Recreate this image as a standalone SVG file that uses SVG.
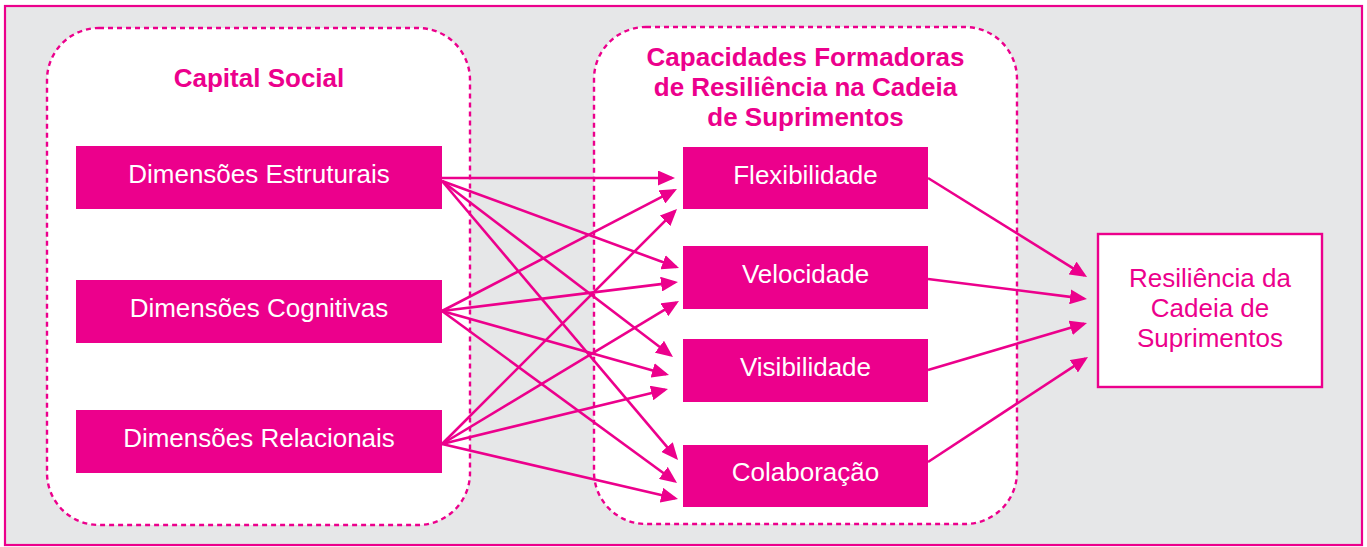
<svg xmlns="http://www.w3.org/2000/svg" width="1367" height="547" viewBox="0 0 1367 547">
<style>
text{font-family:"Liberation Sans",Arial,Helvetica,sans-serif;font-size:26px;text-anchor:middle}
.frame{fill:#e6e7e8;stroke:#ec008c;stroke-width:2.2}
.group{fill:#ffffff;stroke:#ec008c;stroke-width:2.4;stroke-dasharray:5 4}
.box{fill:#ec008c}
.wt{fill:#ffffff}
.title{fill:#ec008c;font-weight:bold}
.out{fill:#ffffff;stroke:#ec008c;stroke-width:2.4}
.pt{fill:#ec008c}
.conn line{stroke:#ec008c;stroke-width:2.6;marker-end:url(#arr)}
</style>
<defs>
<marker id="arr" markerUnits="userSpaceOnUse" markerWidth="17" markerHeight="15" refX="14" refY="7.5" orient="auto">
<path d="M0,0 L17,7.5 L0,15 z" fill="#ec008c"/>
</marker>
</defs>
<rect class="frame" x="5" y="6" width="1357" height="539"/>
<g id="capital-social">
<rect class="group" x="47" y="28" width="423" height="497" rx="52" ry="52"/>
<text class="title" x="259" y="87">Capital Social</text>
</g>
<g id="capacidades">
<rect class="group" x="594" y="27" width="423" height="497" rx="52" ry="52"/>
<text class="title" x="805.5" y="66">Capacidades Formadoras</text>
<text class="title" x="805.5" y="96">de Resiliência na Cadeia</text>
<text class="title" x="805.5" y="126">de Suprimentos</text>
</g>
<g id="connectors" class="conn">
<line x1="442" y1="178" x2="672" y2="178"/>
<line x1="442" y1="181" x2="676.2" y2="267"/>
<line x1="442" y1="181" x2="670.6" y2="355.2"/>
<line x1="442" y1="181" x2="676.1" y2="457.7"/>
<line x1="442" y1="311" x2="674.3" y2="190.4"/>
<line x1="442" y1="311" x2="675" y2="282.4"/>
<line x1="442" y1="311" x2="666.1" y2="374.2"/>
<line x1="442" y1="311" x2="674.6" y2="481.2"/>
<line x1="442" y1="444" x2="674.9" y2="211.1"/>
<line x1="442" y1="444" x2="676.4" y2="302.6"/>
<line x1="442" y1="444" x2="665.1" y2="389.7"/>
<line x1="442" y1="444" x2="675.1" y2="498.3"/>
<line x1="928" y1="178" x2="1084.5" y2="275.4"/>
<line x1="928" y1="279" x2="1084" y2="298.6"/>
<line x1="928" y1="370" x2="1084.1" y2="323.8"/>
<line x1="928" y1="462" x2="1085.5" y2="358.6"/>
</g>
<g id="dim-estruturais">
<rect class="box" x="76" y="146" width="366" height="63"/>
<text class="wt" x="259" y="183">Dimensões Estruturais</text>
</g>
<g id="dim-cognitivas">
<rect class="box" x="76" y="280" width="366" height="63"/>
<text class="wt" x="259" y="317">Dimensões Cognitivas</text>
</g>
<g id="dim-relacionais">
<rect class="box" x="76" y="410" width="366" height="63"/>
<text class="wt" x="259" y="447">Dimensões Relacionais</text>
</g>
<g id="flexibilidade">
<rect class="box" x="683" y="147" width="245" height="62"/>
<text class="wt" x="805.5" y="184">Flexibilidade</text>
</g>
<g id="velocidade">
<rect class="box" x="683" y="246" width="245" height="63"/>
<text class="wt" x="805.5" y="282.5">Velocidade</text>
</g>
<g id="visibilidade">
<rect class="box" x="683" y="339" width="245" height="63"/>
<text class="wt" x="805.5" y="376">Visibilidade</text>
</g>
<g id="colaboracao">
<rect class="box" x="683" y="445" width="245" height="62"/>
<text class="wt" x="805.5" y="481">Colaboração</text>
</g>
<g id="resiliencia">
<rect class="out" x="1098" y="234" width="224" height="153"/>
<text class="pt" x="1210" y="287">Resiliência da</text>
<text class="pt" x="1210" y="317">Cadeia de</text>
<text class="pt" x="1210" y="347">Suprimentos</text>
</g>
</svg>
